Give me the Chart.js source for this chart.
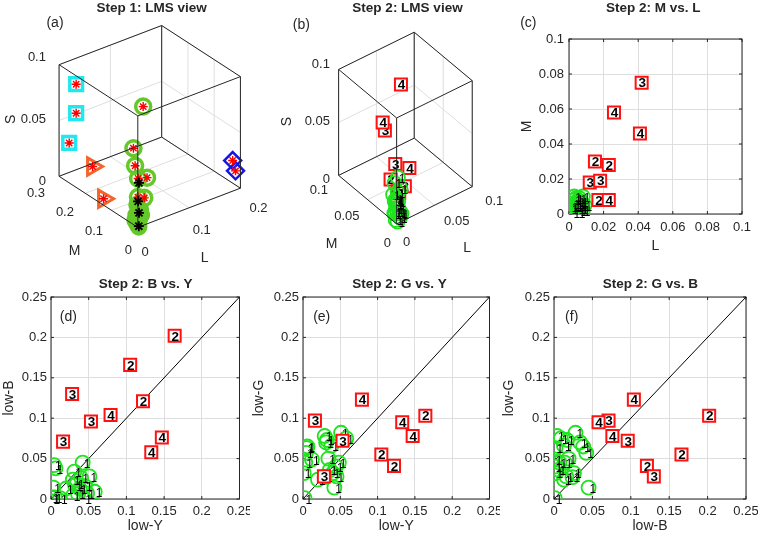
<!DOCTYPE html>
<html>
<head>
<meta charset="utf-8">
<title>LMS / low-cone scatter panels</title>
<script src="https://cdn.jsdelivr.net/npm/chart.js@4.4.1/dist/chart.umd.min.js"></script>
<style>
  html, body { margin: 0; padding: 0; background: #fff; }
  #fig { position: relative; width: 758px; height: 536px; overflow: hidden; }
  #fig canvas { position: absolute; }
</style>
</head>
<body>
<div id="fig">
  <canvas id="pa" width="272" height="262" style="left:0;top:0"></canvas>
  <canvas id="pb" width="262" height="262" style="left:250px;top:0"></canvas>
  <canvas id="pc" width="258" height="262" style="left:500px;top:0"></canvas>
  <canvas id="pd" width="250" height="274" style="left:0;top:262px"></canvas>
  <canvas id="pe" width="250" height="274" style="left:250px;top:262px"></canvas>
  <canvas id="pf" width="258" height="274" style="left:500px;top:262px"></canvas>
</div>
<script>
// ---- step 1 : LMS of the stimuli, one array per marker class ----
const s1CyanL = [0.02, 0.02, 0.01];
const s1CyanM = [0.274, 0.274, 0.281];
const s1CyanS = [0.083, 0.057, 0.031];
const s1OrangeL = [0.03, 0.01];
const s1OrangeM = [0.231, 0.150];
const s1OrangeS = [0.014, 0.001];
const s1BlueL = [0.190, 0.193];
const s1BlueM = [0.010, 0.005];
const s1BlueS = [0.025, 0.016];
const s1GreenL = [0.10, 0.06, 0.05, 0.04, 0.04, 0.03, 0.03];
const s1GreenM = [0.175, 0.134, 0.108, 0.077, 0.043, 0.058, 0.034];
const s1GreenS = [0.064, 0.040, 0.030, 0.025, 0.031, 0.013, 0.016];
const s1BaseL = [0.025, 0.02, 0.015, 0.01, 0.005, 0.002, 0.015, 0.008];
const s1BaseM = [0.052, 0.029, 0.036, 0.013, 0.013, 0.0005, 0.0155, 0.026];
const s1BaseS = [0.008, 0.008, 0.003, 0.004, 0.0003, 0, 0.006, 0.001];
const s1BlackL = [0.035, 0.02, 0.01, 0.002];
const s1BlackM = [0.064, 0.038, 0.015, 0];
const s1BlackS = [0.024, 0.014, 0.009, 0.0007];

// ---- step 2 : group 1 (green circles) ----
const g1L = [0.001,0.003,0.004,0.006,0.008,0.002,0.005,0.007,0.003,0.009,0.004,0.006,0.002,0.005,0.008,0.003,0.006,0.004,0.007,0.001,0.005,0.006];
const g1M = [0.003,0.008,0.004,0.009,0.010,0.006,0.001,0.003,0.010,0.005,0.006,0.002,0.001,0.007,0.002,0.005,0.006,0.009,0.007,0.004,0.003,0.005];
const g1S = [0.002,0.005,0.008,0.012,0.015,0.018,0.004,0.007,0.022,0.028,0.010,0.003,0.001,0.014,0.006,0.020,0.025,0.033,0.038,0.009,0.011,0.017];
const g1Y = [0.042,0.002,0.004,0.006,0.031,0.040,0.051,0.058,0.029,0.034,0.038,0.048,0.012,0.001,0.020,0.029,0.045,0.044,0.036,0.003,0.005,0.032];
const g1B = [0.045,0.001,0.042,0.038,0.034,0.026,0.028,0.009,0.004,0.019,0.013,0.007,0.001,0.002,0.013,0.024,0.016,0.001,0.006,0.014,0.002,0.017];
const g1G = [0.014,0.001,0.057,0.065,0.070,0.032,0.082,0.075,0.078,0.050,0.066,0.045,0.049,0.032,0.024,0.027,0.028,0.040,0.036,0.045,0.063,0.073];

// ---- step 2 : groups 2-4 (red squares) ----
const g2L = [0.015, 0.023, 0.017], g2M = [0.030, 0.028, 0.008], g2S = [0.023, 0.010, 0.026];
const g2Y = [0.164, 0.105, 0.122], g2B = [0.202, 0.166, 0.121], g2G = [0.103, 0.055, 0.041];
const g3L = [0.042, 0.012, 0.018], g3M = [0.075, 0.018, 0.019], g3S = [0.039, 0.044, 0.014];
const g3Y = [0.028, 0.053, 0.016], g3B = [0.130, 0.096, 0.071], g3G = [0.028, 0.072, 0.097];
const g4L = [0.026, 0.041, 0.023], g4M = [0.058, 0.046, 0.008], g4S = [0.060, 0.096, 0.041];
const g4Y = [0.079, 0.147, 0.133], g4B = [0.104, 0.076, 0.058], g4G = [0.123, 0.078, 0.095];

const diagLine = [0, 0.25];

// 3D tick values
const aTicksL = [0, 0.1, 0.2], aTicksM = [0, 0.1, 0.2, 0.3], aTicksS = [0, 0.05, 0.1];
const bTicksL = [0, 0.05, 0.1], bTicksM = [0, 0.05, 0.1], bTicksS = [0, 0.05, 0.1];

// ---- look ----
const ink = '#262626';
const gridInk = '#dedede';
const red = '#ff1111';
const green = '#1fe31f';
const lime = '#64c828';
const none = 'rgba(0,0,0,0)';
const FAMILY = '"Liberation Sans", Arial, Helvetica, sans-serif';
const tickFont = { family: FAMILY, size: 13 };
const labelFont = { family: FAMILY, size: 14 };
const css = (size, weight) => `${weight || 'normal'} ${size}px ${FAMILY}`;
const fmt = v => String(+v.toFixed(3));
const pairs = (xs, ys) => xs.map((x, i) => ({ x, y: ys[i] }));

// free text (titles, panel letters, 3D tick labels), per canvas
const panelTexts = {};
const panelText = {
  id: 'panelText',
  afterDraw(chart) {
    const ctx = chart.ctx;
    (panelTexts[chart.canvas.id] || []).forEach(t => {
      ctx.save();
      ctx.font = t.font;
      ctx.fillStyle = ink;
      ctx.textAlign = t.align || 'center';
      ctx.textBaseline = 'middle';
      ctx.translate(t.x, t.y);
      if (t.rot) ctx.rotate(t.rot);
      ctx.fillText(t.text, 0, 0);
      ctx.restore();
    });
  }
};

// numbers written on top of the markers
const tags = {
  id: 'tags',
  afterDatasetDraw(chart, args) {
    const ds = chart.data.datasets[args.index];
    if (!ds.tags) return;
    const ctx = chart.ctx;
    ctx.save();
    ctx.font = ds.tagFont;
    ctx.fillStyle = '#000';
    ctx.textAlign = ds.tagAlign || 'center';
    ctx.textBaseline = 'middle';
    args.meta.data.forEach((el, j) => {
      if (el.skip) return;
      ctx.fillText(ds.tags[j], el.x + ds.tagDx, el.y + ds.tagDy);
    });
    ctx.restore();
  }
};

// box round the 2D axes with inward ticks
const frame = {
  id: 'frame',
  beforeDatasetsDraw(chart) {
    const { ctx, chartArea: a, scales } = chart;
    const t = 3;
    ctx.save();
    ctx.strokeStyle = ink;
    ctx.lineWidth = 1;
    ctx.strokeRect(a.left, a.top, a.width, a.height);
    ctx.beginPath();
    scales.x.ticks.forEach(tk => {
      const x = scales.x.getPixelForValue(tk.value);
      ctx.moveTo(x, a.bottom); ctx.lineTo(x, a.bottom - t);
      ctx.moveTo(x, a.top); ctx.lineTo(x, a.top + t);
    });
    scales.y.ticks.forEach(tk => {
      const y = scales.y.getPixelForValue(tk.value);
      ctx.moveTo(a.left, y); ctx.lineTo(a.left + t, y);
      ctx.moveTo(a.right, y); ctx.lineTo(a.right - t, y);
    });
    ctx.stroke();
    ctx.restore();
  }
};

// marker styles
const mk = (pointStyle, radius, color, width, fill, order, rotation) => ({
  pointStyle, pointRadius: radius, pointBorderColor: color, pointBorderWidth: width,
  pointBackgroundColor: fill, pointRotation: rotation || 0, order, showLine: false
});
const redSquares = (data, tag, order) => Object.assign(mk('rect', 8.5, red, 2, '#fff', order), {
  data, tags: data.map(() => tag), tagFont: css(13.5, 'bold'), tagDx: 0.5, tagDy: 1
});
const greenRings = (data, order) => Object.assign(mk('circle', 7, green, 1.8, none, order), {
  data, tags: data.map(() => '1'), tagFont: css(12), tagAlign: 'left', tagDx: 1, tagDy: 2
});

// ---- 2D panels ----
function chart2d(id, o) {
  panelTexts[id] = o.texts;
  const axis = (isX, max, step, label, size, titlePad, tickPad) => ({
    type: 'linear', min: 0, max,
    ticks: { stepSize: step, autoSkip: false, maxRotation: 0, padding: tickPad, color: ink, font: tickFont, callback: v => fmt(v) },
    grid: { color: gridInk, lineWidth: 1, drawTicks: false },
    border: { display: false },
    title: { display: true, text: label, color: ink, font: labelFont, padding: titlePad },
    afterFit(s) {
      if (isX) s.height = size; else s.width = size;
      s.paddingLeft = 0; s.paddingRight = 0; s.paddingTop = 0; s.paddingBottom = 0;
    }
  });
  return new Chart(document.getElementById(id), {
    type: 'scatter',
    data: { datasets: o.datasets },
    options: {
      responsive: false, animation: false, events: [],
      layout: { padding: { top: o.padTop, right: o.padRight, left: 0, bottom: 0 } },
      plugins: { legend: { display: false }, tooltip: { enabled: false } },
      scales: {
        x: axis(true, o.max, o.step, o.xLabel, o.xSize, { top: 0, bottom: o.xTitlePad }, o.xTickPad),
        y: axis(false, o.max, o.step, o.yLabel, o.ySize, { top: o.yTitlePad, bottom: 0 }, o.yTickPad)
      }
    },
    plugins: [frame, tags, panelText]
  });
}

// ---- 3D panels: orthographic view (azimuth / elevation) on a normal scatter ----
function project(v) {
  const a = v.az * Math.PI / 180, e = v.el * Math.PI / 180;
  return (L, M, S) => {
    const u = L / v.lim[0], w = M / v.lim[1], h = S / v.lim[2];
    return {
      x: v.ox + v.sx * (Math.cos(a) * u + Math.sin(a) * w),
      y: v.oy - v.sy * (Math.sin(e) * (Math.cos(a) * w - Math.sin(a) * u) + Math.cos(e) * h)
    };
  };
}

function chart3d(id, W, H, view, tk, off, markerSets, extra) {
  const P = project(view);
  const [Lm, Mm, Sm] = view.lim;
  const grid = [], box = [];
  const seg = (arr, p, q) => arr.push(P(...p), P(...q), { x: NaN, y: NaN });
  tk.L.forEach(l => { seg(grid, [l, 0, 0], [l, Mm, 0]); seg(grid, [l, Mm, 0], [l, Mm, Sm]); });
  tk.M.forEach(m => { seg(grid, [0, m, 0], [Lm, m, 0]); seg(grid, [Lm, m, 0], [Lm, m, Sm]); });
  tk.S.forEach(s => { seg(grid, [0, Mm, s], [Lm, Mm, s]); seg(grid, [Lm, 0, s], [Lm, Mm, s]); });
  const base = [[0, 0], [Lm, 0], [Lm, Mm], [0, Mm]];
  base.forEach(([l, m], i) => {
    const [l2, m2] = base[(i + 1) % 4];
    seg(box, [l, m, 0], [l2, m2, 0]);
    seg(box, [l, m, Sm], [l2, m2, Sm]);
    seg(box, [l, m, 0], [l, m, Sm]);
  });

  const tf = css(tickFont.size), lf = css(labelFont.size);
  const texts = extra.slice();
  tk.S.forEach(s => { const p = P(0, Mm, s); texts.push({ text: fmt(s), x: p.x - 5, y: p.y, align: 'right', font: tf }); });
  tk.M.forEach(m => { const p = P(0, m, 0); texts.push({ text: fmt(m), x: p.x + off.mTick[0], y: p.y + off.mTick[1], align: 'right', font: tf }); });
  tk.L.forEach(l => { const p = P(l, 0, 0); texts.push({ text: fmt(l), x: p.x + off.lTick[0], y: p.y + off.lTick[1], align: off.lAlign, font: tf }); });
  const pS = P(0, Mm, Sm / 2), pM = P(0, Mm / 2, 0), pL = P(Lm / 2, 0, 0);
  texts.push({ text: 'S', x: pS.x + off.S[0], y: pS.y + off.S[1], rot: -Math.PI / 2, font: lf });
  texts.push({ text: 'M', x: pM.x + off.M[0], y: pM.y + off.M[1], font: lf });
  texts.push({ text: 'L', x: pL.x + off.L[0], y: pL.y + off.L[1], font: lf });
  panelTexts[id] = texts;

  const line = (data, color, order) => ({ data, showLine: true, borderColor: color, borderWidth: 1, pointRadius: 0, spanGaps: false, order });
  const datasets = [line(grid, gridInk, 50), line(box, ink, 1)].concat(markerSets(P));

  return new Chart(document.getElementById(id), {
    type: 'scatter',
    data: { datasets },
    options: {
      responsive: false, animation: false, events: [],
      layout: { padding: 0 },
      plugins: { legend: { display: false }, tooltip: { enabled: false } },
      scales: {
        x: { type: 'linear', display: false, min: 0, max: W },
        y: { type: 'linear', display: false, min: 0, max: H, reverse: true }
      }
    },
    plugins: [tags, panelText]
  });
}
const pts3 = (P, Ls, Ms, Ss) => Ls.map((l, i) => P(l, Ms[i], Ss[i]));

// (a) Step 1: LMS view
chart3d('pa', 272, 262,
  { ox: 138, oy: 238, sx: 143, sy: 143, az: -37.5, el: 30, lim: [0.2, 0.3, 0.1] },
  { L: aTicksL, M: aTicksM, S: aTicksS },
  { S: [-40, 0], M: [-20, 42], L: [10, 42], mTick: [-6, 12], lTick: [7, 14], lAlign: 'center' },
  P => {
    const cyan = pts3(P, s1CyanL, s1CyanM, s1CyanS);
    const orange = pts3(P, s1OrangeL, s1OrangeM, s1OrangeS);
    const blue = pts3(P, s1BlueL, s1BlueM, s1BlueS);
    const greenPts = pts3(P, s1GreenL, s1GreenM, s1GreenS);
    return [
      Object.assign(mk('circle', 7, lime, 3.5, lime, 9), { data: pts3(P, s1BaseL, s1BaseM, s1BaseS) }),
      Object.assign(mk('circle', 7.5, lime, 3.5, none, 8), { data: greenPts }),
      Object.assign(mk('rect', 9, '#1ee8f0', 3.5, none, 7), { data: cyan }),
      Object.assign(mk('triangle', 10, '#f2642a', 3, none, 7, 90), { data: orange }),
      Object.assign(mk('rectRot', 8.5, '#1414e6', 2.5, none, 7), { data: blue }),
      Object.assign(mk('star', 4.5, '#ff0000', 1.4, '#ff0000', 3), { data: cyan.concat(orange, blue, greenPts) }),
      Object.assign(mk('star', 5, '#000', 1.8, '#000', 0), { data: pts3(P, s1BlackL, s1BlackM, s1BlackS) })
    ];
  },
  [{ text: 'Step 1: LMS view', x: 151.7, y: 8, font: css(13.5, 'bold') },
   { text: '(a)', x: 55, y: 23, font: css(14) }]);

// (b) Step 2: LMS view
chart3d('pb', 262, 262,
  { ox: 148, oy: 232, sx: 103.6, sy: 133, az: -37.5, el: 30, lim: [0.1, 0.1, 0.1] },
  { L: bTicksL, M: bTicksM, S: bTicksS },
  { S: [-48, 0], M: [-35, 39], L: [28, 36], mTick: [-7, 11], lTick: [5, 10], lAlign: 'left' },
  P => [
    redSquares(pts3(P, g2L, g2M, g2S), '2', 4),
    redSquares(pts3(P, g3L, g3M, g3S), '3', 3),
    redSquares(pts3(P, g4L, g4M, g4S), '4', 2),
    greenRings(pts3(P, g1L, g1M, g1S), 1)
  ],
  [{ text: 'Step 2: LMS view', x: 157.5, y: 8, font: css(13.5, 'bold') },
   { text: '(b)', x: 51.3, y: 25, font: css(14) }]);

// (c) Step 2: M vs. L
chart2d('pc', {
  max: 0.1, step: 0.02, xLabel: 'L', yLabel: 'M',
  padTop: 39, padRight: 16, xSize: 48, ySize: 69,
  xTitlePad: 7, yTitlePad: 18.6, xTickPad: 6, yTickPad: 5,
  datasets: [
    greenRings(pairs(g1L, g1M), 5),
    redSquares(pairs(g2L, g2M), '2', 3),
    redSquares(pairs(g3L, g3M), '3', 2),
    redSquares(pairs(g4L, g4M), '4', 1)
  ],
  texts: [{ text: 'Step 2: M vs. L', x: 153.3, y: 8, font: css(13.5, 'bold') },
          { text: '(c)', x: 28.3, y: 23, font: css(14) }]
});

const diagSet = () => ({ data: pairs(diagLine, diagLine), showLine: true, borderColor: '#000', borderWidth: 1, pointRadius: 0, order: 10 });
function lowPanel(id, xs, ys, letterX, xLabel, yLabel, ySize, padRight, title, letter, titleX) {
  chart2d(id, {
    max: 0.25, step: 0.05, xLabel, yLabel,
    padTop: 35, padRight, xSize: 37, ySize,
    xTitlePad: 1, yTitlePad: 1, xTickPad: 5, yTickPad: 4,
    datasets: [
      diagSet(),
      greenRings(pairs(xs[0], ys[0]), 5),
      redSquares(pairs(xs[1], ys[1]), '2', 3),
      redSquares(pairs(xs[2], ys[2]), '3', 2),
      redSquares(pairs(xs[3], ys[3]), '4', 1)
    ],
    texts: [{ text: title, x: titleX, y: 22, font: css(13.5, 'bold') },
            { text: letter, x: letterX, y: 55, font: css(14) }]
  });
}

lowPanel('pd', [g1Y, g2Y, g3Y, g4Y], [g1B, g2B, g3B, g4B], 68.3, 'low-Y', 'low-B', 51, 8, 'Step 2: B vs. Y', '(d)', 145.7);
lowPanel('pe', [g1Y, g2Y, g3Y, g4Y], [g1G, g2G, g3G, g4G], 71.7, 'low-Y', 'low-G', 53, 6, 'Step 2: G vs. Y', '(e)', 149.5);
lowPanel('pf', [g1B, g2B, g3B, g4B], [g1G, g2G, g3G, g4G], 71.7, 'low-B', 'low-G', 54, 12, 'Step 2: G vs. B', '(f)', 150.3);
</script>
</body>
</html>
